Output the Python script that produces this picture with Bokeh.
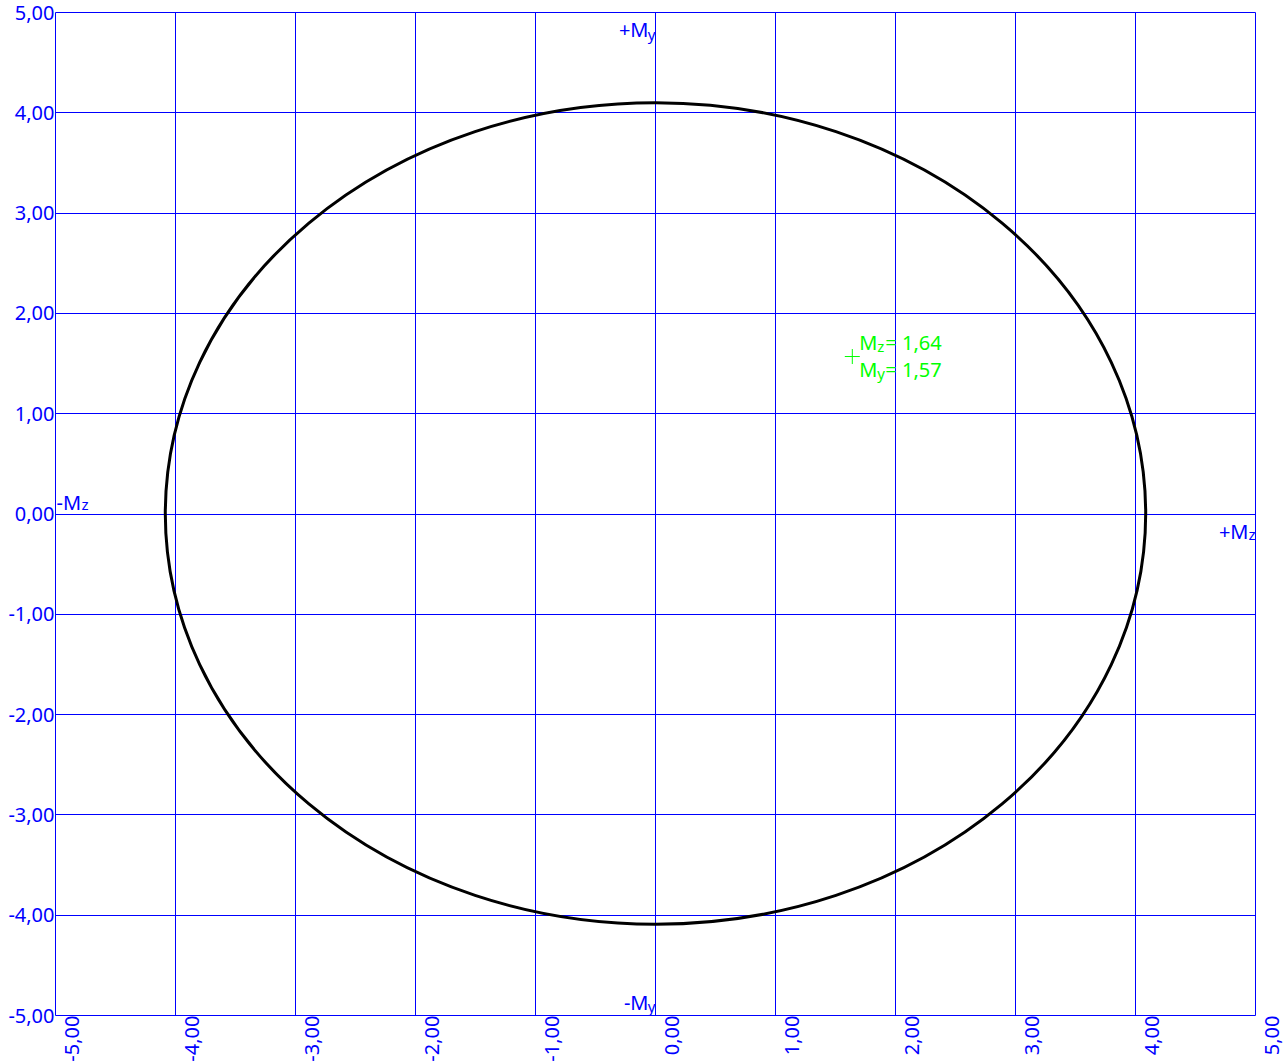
from math import pi
from bokeh.plotting import figure
from bokeh.models import FixedTicker, Label, Range1d
from bokeh.core.properties import value
from bokeh.embed import file_html
from bokeh.resources import INLINE

# ---- data ----
tick_values = [-5, -4, -3, -2, -1, 0, 1, 2, 3, 4, 5]
tick_labels = ["-5,00", "-4,00", "-3,00", "-2,00", "-1,00", "0,00",
               "1,00", "2,00", "3,00", "4,00", "5,00"]

# interaction curve (read as an ellipse: centre, full width in Mz, full height in My)
curve_center_mz = [0.0]
curve_center_my = [0.005]
curve_width_mz = [8.17]
curve_height_my = [8.19]

point_mz = [1.64]
point_my = [1.57]
point_mz_text = "1,64"
point_my_text = "1,57"

title_text = "Axial force: N = -100,00kN"

BLUE = "#0000FF"
GREEN = "#00FF00"
FONT = "Noto Sans"

p = figure(width=1288, height=1064,
           x_range=Range1d(-5, 5), y_range=Range1d(-5, 5),
           output_backend="svg", toolbar_location=None,
           min_border_left=55, min_border_right=33,
           min_border_top=12, min_border_bottom=49)
p.background_fill_color = "white"
p.border_fill_color = "white"
p.outline_line_color = BLUE
p.outline_line_width = 1
p.outline_line_alpha = 1

for ax in (p.xaxis[0], p.yaxis[0]):
    ax.ticker = FixedTicker(ticks=tick_values)
    ax.major_label_text_font = FONT
    ax.major_label_text_font_size = "20px"
    ax.major_label_text_color = BLUE
    ax.major_label_standoff = 1
    ax.major_tick_out = 0
    ax.major_tick_in = 0
    ax.minor_tick_out = 0
    ax.minor_tick_in = 0
    ax.axis_line_color = None
p.yaxis[0].major_label_overrides = {v: l for v, l in zip(tick_values, tick_labels)}
# leading empty line shifts each rotated label to the right of its grid line
p.xaxis[0].major_label_overrides = {v: "\n" + l for v, l in zip(tick_values, tick_labels)}
p.xaxis[0].major_label_orientation = pi / 2
p.xaxis[0].major_label_standoff = 0

for g in (p.xgrid[0], p.ygrid[0]):
    g.ticker = FixedTicker(ticks=tick_values)
    g.grid_line_color = BLUE
    g.grid_line_width = 1

# title (cut off at the top edge, as in the reference)
p.add_layout(Label(x=-5, y=5, text=title_text, y_offset=13,
                   text_font=FONT, text_font_size="20px", text_font_style="bold",
                   text_color=BLUE, text_baseline="alphabetic", text_align="left"))

# interaction curve
p.ellipse(x=curve_center_mz, y=curve_center_my, width=curve_width_mz, height=curve_height_my,
          fill_color=None, line_color="black", line_width=3)

# axis-end labels with subscripts
def txt(x, y, t, xo, yo, align, size, color=BLUE):
    p.text(x=[x], y=[y], text=[t], x_offset=xo, y_offset=yo - 7, text_align=align,
           text_baseline="alphabetic", text_font=value(FONT),
           text_font_size=size, text_color=color)

# +My (top)
txt(0, 5, "y", 0, 28, "right", "15px")
txt(0, 5, "+M", -7, 24, "right", "20px")
# -My (bottom)
txt(0, -5, "y", 0, -3, "right", "15px")
txt(0, -5, "-M", -7, -6, "right", "20px")
# -Mz (left)
txt(-5, 0, "-M", 1, -5, "left", "20px")
txt(-5, 0, "z", 26, -3, "left", "15px")
# +Mz (right)
txt(5, 0, "z", 0, 27, "right", "15px")
txt(5, 0, "+M", -7, 24, "right", "20px")

# green design point
p.scatter(point_mz, point_my, marker="cross", size=15, line_color=GREEN, line_width=1)
txt(point_mz[0], point_my[0], "M", 7, -7, "left", "20px", GREEN)
txt(point_mz[0], point_my[0], "z", 25, -4, "left", "15px", GREEN)
txt(point_mz[0], point_my[0], "= " + point_mz_text, 33, -7, "left", "20px", GREEN)
txt(point_mz[0], point_my[0], "M", 7, 20, "left", "20px", GREEN)
txt(point_mz[0], point_my[0], "y", 25, 23, "left", "15px", GREEN)
txt(point_mz[0], point_my[0], "= " + point_my_text, 33, 20, "left", "20px", GREEN)

open("out.html", "w").write(file_html(p, INLINE))
